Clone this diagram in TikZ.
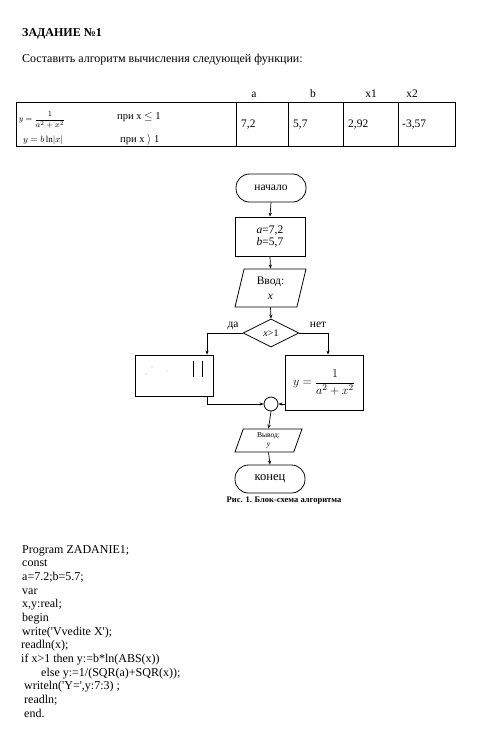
\documentclass[tikz,border=0pt]{standalone}
\usepackage{amsmath}
\usepackage{fontspec}
\setmainfont{Liberation Serif}
\usetikzlibrary{shapes.geometric,arrows.meta,calc}
\tikzset{
  ln/.style={line width=0.8pt},
  arr/.style={line width=0.7pt,-{Stealth[length=4pt,width=3.2pt]}},
  term/.style={draw,ln,rounded corners=13.5pt,minimum width=70pt,minimum height=28pt,inner sep=0pt},
  proc/.style={draw,ln,inner sep=0pt,align=center},
  io/.style={draw,ln,trapezium,trapezium stretches body,inner sep=0pt,align=center},
  txt/.style={inner sep=0pt,anchor=base west},
  ctxt/.style={inner sep=0pt,anchor=base},
  codeln/.style={inner sep=0pt,anchor=base west,font=\fontsize{12}{14}\selectfont},
}
\begin{document}
\begin{tikzpicture}[x=1pt,y=-1pt]
\useasboundingbox (0,0) rectangle (485,737);
\fill[white] (0,0) rectangle (485,737);

% header
\node[txt,font=\fontsize{12}{14}\selectfont\bfseries] (title) at (22,36) {ЗАДАНИЕ №1};
\node[txt,font=\fontsize{12}{14}\selectfont] (task) at (22,62.5) {Составить алгоритм вычисления следующей функции:};

% table header
\node[ctxt,font=\fontsize{11.5}{13}\selectfont] (ha) at (254,97) {a};
\node[ctxt,font=\fontsize{11.5}{13}\selectfont] (hb) at (313,97) {b};
\node[ctxt,font=\fontsize{11.5}{13}\selectfont] (hx1) at (371,97) {x1};
\node[ctxt,font=\fontsize{11.5}{13}\selectfont] (hx2) at (412,97) {x2};

% table
\draw[ln] (16,102) rectangle (455,146);
\foreach \xx in {236,288,343,398} \draw[ln] (\xx,102) -- (\xx,146);

\node[inner sep=0pt,font=\fontsize{8}{9}\selectfont] (f1) at (42,120) {$y=\dfrac{1}{a^2+x^2}$};
\node[txt,font=\fontsize{10.5}{12}\selectfont] (c1) at (117,119) {при x $\leq$ 1};
\node[txt,font=\fontsize{9}{10}\selectfont] (f2) at (23,142) {$y=b\ln\lvert x\rvert$};
\node[txt,font=\fontsize{10.5}{12}\selectfont] (c2) at (120,142) {при x $\rangle$ 1};

\node[txt,font=\fontsize{11.5}{13}\selectfont] (va) at (241,127) {7,2};
\node[txt,font=\fontsize{11.5}{13}\selectfont] (vb) at (293,127) {5,7};
\node[txt,font=\fontsize{11.5}{13}\selectfont] (vx1) at (348,127) {2,92};
\node[txt,font=\fontsize{11.5}{13}\selectfont] (vx2) at (402,127) {-3,57};

% flowchart
\node[term,font=\fontsize{11.5}{13}\selectfont] (start) at (271,188) {начало};
\node[proc,minimum width=70pt,minimum height=39pt,font=\fontsize{11.5}{13}\selectfont] (data) at (270,236.5) {\textit{a}=7,2\\[-1pt]\textit{b}=5,7};
\node[io,trapezium left angle=68,trapezium right angle=112,minimum width=71pt,minimum height=38pt,font=\fontsize{11.5}{15}\selectfont] (in) at (270.5,288) {Ввод:\\\textit{x}};
\node[draw,ln,diamond,minimum width=56pt,minimum height=28pt,inner sep=0pt,font=\fontsize{10}{12}\selectfont] (dia) at (271,333) {\textit{x}>1};
\node[ctxt,font=\fontsize{11.5}{13}\selectfont] (yes) at (233,327) {да};
\node[ctxt,font=\fontsize{11.5}{13}\selectfont] (no) at (318,327) {нет};

\node[proc,minimum width=78pt,minimum height=41pt] (L) at (174,375.5) {};
\draw[line width=0.9pt] (193,361) -- (193,377) (202,361) -- (202,377);
\fill[black!35] (152,367) circle (0.6) (146,374) circle (0.6) (167,371) circle (0.5);

\node[proc,minimum width=78pt,minimum height=55pt,font=\fontsize{12.5}{15}\selectfont] (R) at (324,382.5) {$y=\dfrac{1}{a^2+x^2}$};

\node[draw,ln,circle,minimum size=14pt,inner sep=0pt] (j) at (271,404) {};

\node[io,trapezium left angle=62,trapezium right angle=118,minimum width=67pt,minimum height=23pt,font=\fontsize{7.5}{9}\selectfont] (out) at (268.5,440.5) {Вывод:\\\textit{y}};
\node[term,font=\fontsize{12.5}{14}\selectfont] (stop) at (270,479) {конец};
\node[inner sep=0pt,font=\fontsize{8.5}{10}\selectfont\bfseries] (cap) at (284,501) {Рис. 1. Блок-схема алгоритма};

\draw[arr] (start.south) -- (data.north);
\draw[arr] (data.south) -- (in.north);
\draw[arr] (in.south) -- (dia.north);
\draw[arr] (dia.west) -| ([xshift=33pt]L.north);
\draw[arr] (dia.east) -| ([xshift=4pt]R.north);
\draw[arr] ([xshift=33pt]L.south) |- (j.west);
\draw[arr] (R.west |- j.east) -- (j.east);
\draw[arr] (j.south) -- (out.north);
\draw[arr] (out.south) -- (stop.north);

% code
\node[codeln] (k1) at (22,553) {Program ZADANIE1;};
\node[codeln] (k2) at (22,566.7) {const};
\node[codeln] (k3) at (22,580.3) {a=7.2;b=5.7;};
\node[codeln] (k4) at (22,594) {var};
\node[codeln] (k5) at (22,607.7) {x,y:real;};
\node[codeln] (k6) at (22,621.3) {begin};
\node[codeln] (k7) at (22,635) {write(\textquotesingle Vvedite X\textquotesingle);};
\node[codeln] (k8) at (21,648.7) {readln(x);};
\node[codeln] (k9) at (21,662.3) {if x>1 then y:=b*ln(ABS(x))};
\node[codeln] (k10) at (41,676) {else y:=1/(SQR(a)+SQR(x));};
\node[codeln] (k11) at (24,689.7) {writeln(\textquotesingle Y=\textquotesingle,y:7:3) ;};
\node[codeln] (k12) at (24,703.3) {readln;};
\node[codeln] (k13) at (24,717) {end.};
\end{tikzpicture}
\end{document}
